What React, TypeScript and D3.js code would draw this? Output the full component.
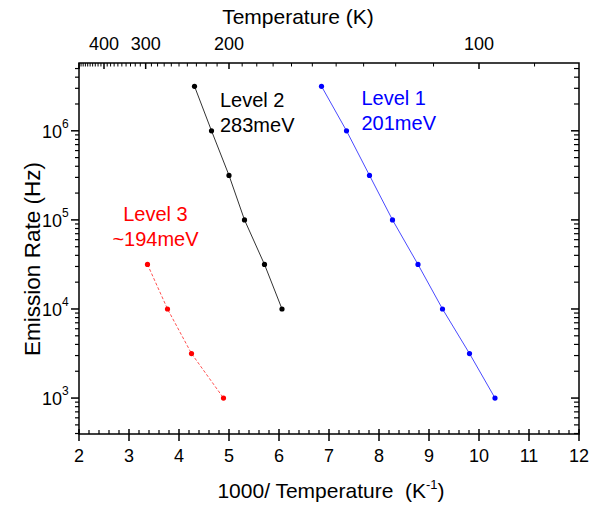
import React from 'react';
import * as d3 from 'd3';

// 1000/T (K^-1) and emission rate (Hz) for each trap level
const level1X = [6.85, 7.35, 7.81, 8.27, 8.78, 9.27, 9.81, 10.32];
const level1Y = [3.16e6, 1e6, 3.16e5, 1e5, 3.16e4, 1e4, 3.16e3, 1e3];
const level2X = [4.31, 4.65, 5.0, 5.31, 5.71, 6.06];
const level2Y = [3.16e6, 1e6, 3.16e5, 1e5, 3.16e4, 1e4];
const level3X = [3.37, 3.77, 4.25, 4.89];
const level3Y = [3.16e4, 1e4, 3.16e3, 1e3];

const xTicks = [2, 3, 4, 5, 6, 7, 8, 9, 10, 11, 12];
const yDecades = [3, 4, 5, 6];
const tempLabels = [400, 300, 200, 100];
const tempMajor = [100, 200, 300, 400, 500];

const labels = [
  { lines: ['Level 1', '201meV'], x: 7.65, y: 1.95e6, color: '#0000ff', anchor: 'start' },
  { lines: ['Level 2', '283meV'], x: 4.82, y: 1.86e6, color: '#000000', anchor: 'start' },
  { lines: ['Level 3', '~194meV'], x: 3.53, y: 9.6e4, color: '#ff0000', anchor: 'middle' },
];

const W = 602;
const H = 506;
const font = 'Liberation Sans, Arial, sans-serif';

export default function App() {
  const x = d3.scaleLinear().domain([2, 12]).range([79, 579]);
  const y = d3.scaleLog().domain([395, 5.77e6]).range([434, 63]);
  const [x0, x1] = x.range();
  const [yb, yt] = y.range();

  const line = d3
    .line<[number, number]>()
    .x(d => x(d[0]))
    .y(d => y(d[1]));

  const series = [
    { xs: level1X, ys: level1Y, color: '#0000ff', lineColor: '#4a4aff', dash: null },
    { xs: level2X, ys: level2Y, color: '#000000', lineColor: '#333333', dash: null },
    { xs: level3X, ys: level3Y, color: '#ff0000', lineColor: '#ff5050', dash: '3,2' },
  ];

  // minor ticks on x (every 0.2)
  const xMinor = d3.range(2, 12.001, 0.2).filter(v => Math.abs(v - Math.round(v)) > 0.01);
  // minor ticks on log y
  const yMinor: number[] = [];
  for (let e = 2; e <= 6; e++) {
    for (let m = 2; m <= 9; m++) {
      const v = m * Math.pow(10, e);
      if (v >= 395 && v <= 5.77e6) yMinor.push(v);
    }
  }
  // top axis: temperature every 10 K
  const tempMinor = d3.range(90, 501, 10).filter(t => !tempMajor.includes(t) && 1000 / t <= 12);

  return (
    <svg width={W} height={H} style={{ position: 'absolute', left: 0, top: 0 }} fontFamily={font}>
      <rect width={W} height={H} fill="white" />

      {/* data */}
      {series.map((s, i) => {
        const pts = s.xs.map((v, j) => [v, s.ys[j]] as [number, number]);
        return (
          <g key={i}>
            <path d={line(pts) || ''} fill="none" stroke={s.lineColor} strokeWidth={1} strokeDasharray={s.dash || undefined} />
            {pts.map((p, j) => (
              <circle key={j} cx={x(p[0])} cy={y(p[1])} r={2.6} fill={s.color} />
            ))}
          </g>
        );
      })}

      {/* annotations */}
      {labels.map((l, i) => (
        <text key={i} x={x(l.x)} y={y(l.y)} fill={l.color} fontSize={20} textAnchor={l.anchor}>
          {l.lines.map((t, j) => (
            <tspan key={j} x={x(l.x)} dy={j === 0 ? 0 : 25}>
              {t}
            </tspan>
          ))}
        </text>
      ))}

      {/* frame */}
      <rect x={x0} y={yt} width={x1 - x0} height={yb - yt} fill="none" stroke="black" strokeWidth={1.5} />

      {/* bottom axis */}
      {xTicks.map(v => (
        <g key={v}>
          <line x1={x(v)} x2={x(v)} y1={yb - 5} y2={yb + 7} stroke="black" strokeWidth={1.5} />
          <text x={x(v)} y={462} fontSize={18} textAnchor="middle">
            {v}
          </text>
        </g>
      ))}
      {xMinor.map((v, i) => (
        <line key={i} x1={x(v)} x2={x(v)} y1={yb} y2={yb - 4} stroke="black" strokeWidth={1.2} />
      ))}

      {/* left / right y ticks */}
      {yDecades.map(e => {
        const v = Math.pow(10, e);
        return (
          <g key={e}>
            <line x1={x0 - 8} x2={x0} y1={y(v)} y2={y(v)} stroke="black" strokeWidth={1.5} />
            <line x1={x1 - 8} x2={x1} y1={y(v)} y2={y(v)} stroke="black" strokeWidth={1.5} />
            <text x={62} y={y(v) + 7} fontSize={18} textAnchor="end">
              10
            </text>
            <text x={62} y={y(v) - 3} fontSize={12} textAnchor="start">
              {e}
            </text>
          </g>
        );
      })}
      {yMinor.map((v, i) => (
        <g key={i}>
          <line x1={x0 - 4} x2={x0} y1={y(v)} y2={y(v)} stroke="black" strokeWidth={1.2} />
          <line x1={x1 - 5} x2={x1} y1={y(v)} y2={y(v)} stroke="black" strokeWidth={1.2} />
        </g>
      ))}

      {/* top axis: temperature */}
      {tempMajor.map(t => (
        <line key={t} x1={x(1000 / t)} x2={x(1000 / t)} y1={yt} y2={yt + 6} stroke="black" strokeWidth={1.5} />
      ))}
      {tempMinor.map(t => (
        <line key={t} x1={x(1000 / t)} x2={x(1000 / t)} y1={yt} y2={yt + 3.5} stroke="black" strokeWidth={1} />
      ))}
      {tempLabels.map(t => (
        <text key={t} x={x(1000 / t)} y={50} fontSize={18} textAnchor="middle">
          {t}
        </text>
      ))}

      {/* titles */}
      <text x={298} y={24} fontSize={21} textAnchor="middle">
        Temperature (K)
      </text>
      <text x={331} y={498} fontSize={21} textAnchor="middle">
        1000/ Temperature{'\u00a0\u00a0'}(K
        <tspan fontSize={13} dy={-9}>
          -1
        </tspan>
        <tspan dy={9}>)</tspan>
      </text>
      <text transform="translate(40,259) rotate(-90)" fontSize={22.5} textAnchor="middle">
        Emission Rate (Hz)
      </text>
    </svg>
  );
}
